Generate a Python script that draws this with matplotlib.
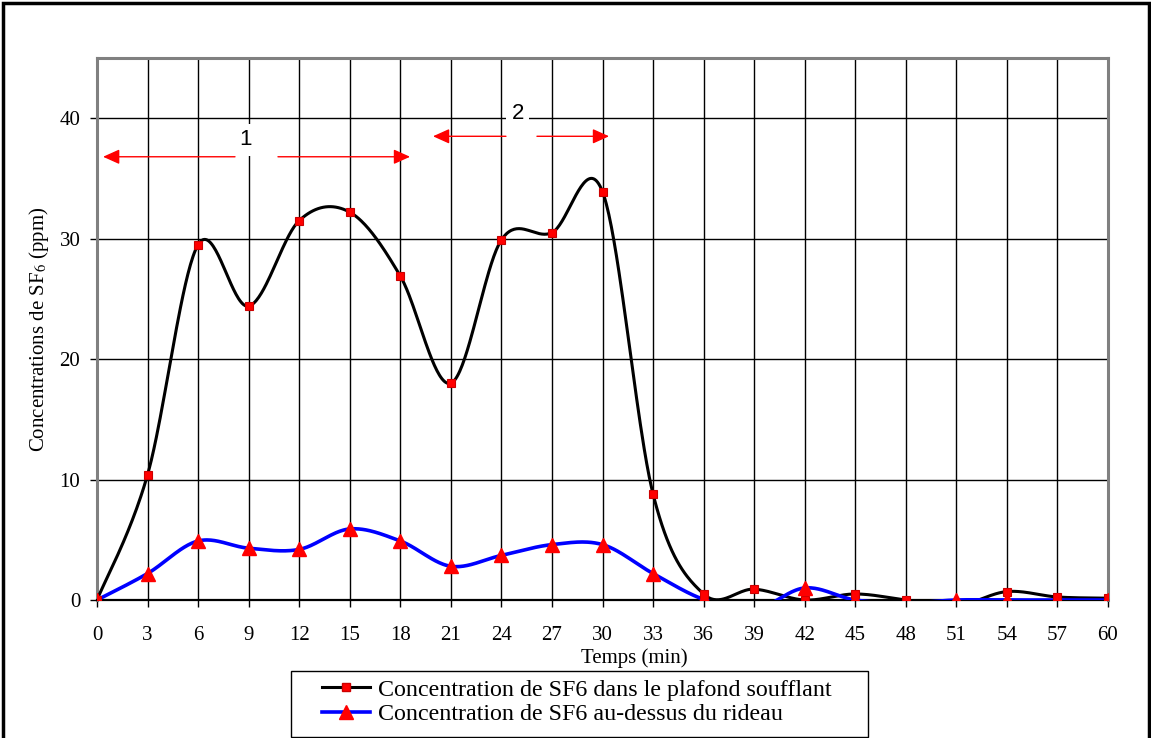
import numpy as np
import matplotlib
matplotlib.use("Agg")
import matplotlib.pyplot as plt
from matplotlib.lines import Line2D
from matplotlib.patches import Rectangle

# ---- data ----
temps = [0, 3, 6, 9, 12, 15, 18, 21, 24, 27, 30, 33, 36, 39, 42, 45, 48, 51, 54, 57, 60]
plafond = [0, 10.4, 29.5, 24.4, 31.5, 32.2, 26.9, 18.0, 29.9, 30.5, 33.9, 8.8,
           0.5, 0.9, 0.0, 0.5, 0.0, -0.5, 0.7, 0.25, 0.15]
rideau = [0, 2.2, 4.9, 4.3, 4.2, 5.9, 4.9, 2.8, 3.7, 4.6, 4.6, 2.2,
          0.05, -0.8, 1.0, 0.0, -0.25, 0.0, 0.0, 0.0, 0.0]
xticks = list(range(0, 61, 3))
yticks = [0, 10, 20, 30, 40]
label_plafond = "Concentration de SF6 dans le plafond soufflant"
label_rideau = "Concentration de SF6 au-dessus du rideau"
# annotation phases (x start, x gap start, x gap end, x end, y, label x, label y, label)
phases = [
    (0.36, 8.19, 10.74, 18.58, 36.8, 8.8, 38.2, "1"),
    (19.94, 24.27, 26.11, 30.39, 38.5, 24.96, 40.4, "2"),
]

plt.rcParams['font.family'] = ['Liberation Serif', 'DejaVu Serif']
plt.rcParams['mathtext.fontset'] = 'stix'


def excel_smooth(x, y, n=40):
    x = np.asarray(x, float)
    y = np.asarray(y, float)
    P = np.column_stack([x, y])
    out = []
    m = len(P)
    for i in range(m - 1):
        p0 = P[i - 1] if i > 0 else P[i]
        p1 = P[i]
        p2 = P[i + 1]
        p3 = P[i + 2] if i + 2 < m else P[i + 1]
        c1 = p1 + (p2 - p0) / 6.0
        c2 = p2 - (p3 - p1) / 6.0
        t = np.linspace(0, 1, n, endpoint=(i == m - 2))[:, None]
        seg = ((1 - t) ** 3) * p1 + 3 * ((1 - t) ** 2) * t * c1 + 3 * (1 - t) * t ** 2 * c2 + t ** 3 * p2
        out.append(seg)
    out = np.vstack(out)
    return out[:, 0], out[:, 1]


fig = plt.figure(figsize=(11.51, 7.38), dpi=100)
W, H = 1151, 738
ax = fig.add_axes([97 / W, 1 - 600 / H, (1108 - 97) / W, (600 - 58) / H])

ax.set_xlim(0, 60)
ax.set_ylim(0, 45)
ax.set_xticks(xticks)
ax.set_yticks(yticks)
ax.tick_params(axis='both', direction='out', length=5, width=1, color='black',
               labelsize=15)
ax.tick_params(axis='x', pad=14)
ax.tick_params(axis='y', pad=7)
ax.grid(True, color='black', linewidth=1.0)
ax.set_axisbelow(True)
for side in ['left', 'top', 'right']:
    ax.spines[side].set_color('#808080')
    ax.spines[side].set_linewidth(2.2)
ax.spines['bottom'].set_color('black')
ax.spines['bottom'].set_linewidth(1.6)
ax.spines['bottom'].set_zorder(3)

sx, sy = excel_smooth(temps, plafond)
ax.plot(sx, sy, color='black', lw=2.2, zorder=4)
ax.plot(temps, plafond, linestyle='none', marker='s', ms=5.5, mfc='red', mec='#cc0000',
        mew=0.8, zorder=5)
bx, by = excel_smooth(temps, rideau)
ax.plot(bx, by, color='blue', lw=2.6, zorder=4)
ax.plot(temps, rideau, linestyle='none', marker='^', ms=10, mfc='red', mec='red', zorder=6)

# phase annotations
for xs, g1, g2, xe, yy, tx, ty, lab in phases:
    ax.annotate('', xy=(xs, yy), xytext=(g1, yy),
                arrowprops=dict(arrowstyle='-|>,head_length=1.0,head_width=0.45',
                                color='red', lw=1.0, shrinkA=0, shrinkB=0), zorder=7)
    ax.annotate('', xy=(xe, yy), xytext=(g2, yy),
                arrowprops=dict(arrowstyle='-|>,head_length=1.0,head_width=0.45',
                                color='red', lw=1.0, shrinkA=0, shrinkB=0), zorder=7)
    ax.text(tx, ty, lab, ha='center', va='center', fontsize=16,
            family=['Liberation Sans', 'DejaVu Sans'], zorder=8,
            bbox=dict(boxstyle='square,pad=0.25', facecolor='white', edgecolor='none'))

ax.set_ylabel('Concentrations de SF$_6$ (ppm)', fontsize=15, labelpad=6)
fig.text(634 / W, 1 - 658 / H, 'Temps (min)', ha='center', va='center', fontsize=15)

handles = [
    Line2D([0], [0], color='black', lw=2.2, marker='s', ms=5.5, mfc='red', mec='#cc0000'),
    Line2D([0], [0], color='blue', lw=2.6, marker='^', ms=10, mfc='red', mec='red'),
]
leg = fig.legend(handles, [label_plafond, label_rideau], loc='center',
                 bbox_to_anchor=(577 / W, 1 - 702 / H), fontsize=17.3, frameon=False,
                 handlelength=2.0, handletextpad=0.35, labelspacing=0.12, borderpad=0.2)

# legend frame
fig.patches.append(Rectangle((291 / W, 1 - 737 / H), (868 - 291) / W, (737 - 671) / H,
                             transform=fig.transFigure, fill=False, edgecolor='black',
                             linewidth=1.0))
# outer frame
fig.patches.append(Rectangle((3 / W, -0.05), (1149 - 3) / W, 1.05 - 3 / H,
                             transform=fig.transFigure, fill=False, edgecolor='black',
                             linewidth=2.5))

fig.savefig('out.png', dpi=100)
